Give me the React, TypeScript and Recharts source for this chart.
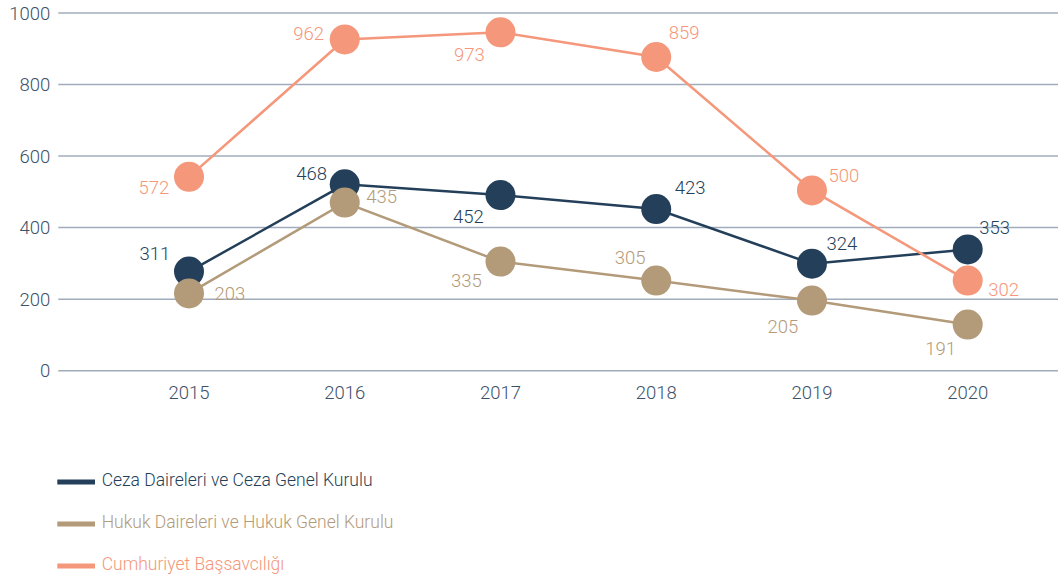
import React from 'react';
import { LineChart, Line, XAxis, YAxis, CartesianGrid, LabelList } from 'recharts';

const years = ['2015', '2016', '2017', '2018', '2019', '2020'];
// values as plotted in the reference
const cezaPlotted = [277, 521, 491, 452, 299, 339];
const hukukPlotted = [216, 470, 305, 252, 196, 129];
const cumhPlotted = [542, 926, 946, 877, 504, 252];
// values as printed on the labels
const cezaLabels = [311, 468, 452, 423, 324, 353];
const hukukLabels = [203, 435, 335, 305, 205, 191];
const cumhLabels = [572, 962, 973, 859, 500, 302];
const yTicks = [0, 200, 400, 600, 800, 1000];
const seriesNames = [
  'Ceza Daireleri ve Ceza Genel Kurulu',
  'Hukuk Daireleri ve Hukuk Genel Kurulu',
  'Cumhuriyet Başsavcılığı',
];

const COLORS = ['#243f59', '#b39a79', '#f4977a'];
const TICK_COLOR = '#3d5168';
const GRID_COLOR = '#a0acbb';
const FONT = 'Roboto, "Liberation Sans", sans-serif';
const WEIGHT = 300;

// label placement (label center relative to point)
const cezaOffsets = [[-34, -18], [-33, -11], [-32, 21], [34, -22], [30, -20], [27, -22]];
const hukukOffsets = [[41, 0], [37, -6], [-34, 19], [-26, -23], [-29, 26], [-27, 24]];
const cumhOffsets = [[-35, 11], [-36, -6], [-31, 22], [28, -24], [32, -15], [36, 9]];

const data = years.map((year, i) => ({
  year,
  ceza: cezaPlotted[i],
  hukuk: hukukPlotted[i],
  cumh: cumhPlotted[i],
}));

const makeLabel = (labels: number[], offsets: number[][], color: string) => (props: any) => {
  const { x, y, index } = props;
  const [dx, dy] = offsets[index];
  return (
    <text
      x={x + dx}
      y={y + dy + 6.5}
      textAnchor="middle"
      fill={color}
      style={{ fontFamily: FONT, fontSize: 18.5, fontWeight: WEIGHT }}
    >
      {labels[index]}
    </text>
  );
};

const series = [
  { key: 'ceza', labels: cezaLabels, offsets: cezaOffsets },
  { key: 'hukuk', labels: hukukLabels, offsets: hukukOffsets },
  { key: 'cumh', labels: cumhLabels, offsets: cumhOffsets },
];

const legendRows = [482, 524, 566];

export default function App() {
  return (
    <div style={{ position: 'absolute', left: 0, top: 0, width: 1058, height: 584, background: '#fff' }}>
      <LineChart
        width={1058}
        height={420}
        data={data}
        margin={{ top: 13, right: 0, left: 0, bottom: 0 }}
      >
        <CartesianGrid vertical={false} stroke={GRID_COLOR} strokeWidth={1.5} />
        <XAxis
          dataKey="year"
          axisLine={false}
          tickLine={false}
          tickMargin={9}
          height={49.3}
          padding={{ left: 130.7, right: 90.3 }}
          tick={{ fill: TICK_COLOR, fontSize: 18.5, fontFamily: FONT, fontWeight: WEIGHT }}
        />
        <YAxis
          domain={[0, 1000]}
          ticks={yTicks}
          axisLine={false}
          tickLine={false}
          width={58.3}
          tick={{ fill: TICK_COLOR, fontSize: 18.5, fontFamily: FONT, fontWeight: WEIGHT }}
          interval={0}
        />
        {series.map((s, i) => (
          <Line
            key={s.key}
            dataKey={s.key}
            stroke={COLORS[i]}
            strokeWidth={2.5}
            dot={{ r: 15, fill: COLORS[i], stroke: 'none', strokeWidth: 0 }}
            activeDot={false}
            isAnimationActive={false}
          >
            <LabelList dataKey={s.key} content={makeLabel(s.labels, s.offsets, COLORS[i])} />
          </Line>
        ))}
      </LineChart>
      <svg width={1058} height={584} style={{ position: 'absolute', left: 0, top: 0, pointerEvents: 'none' }}>
        {seriesNames.map((name, i) => (
          <g key={name}>
            <line x1={57.3} x2={95} y1={legendRows[i]} y2={legendRows[i]} stroke={COLORS[i]} strokeWidth={5} />
            <text x={101.7} y={legendRows[i] + 3.8} fill={COLORS[i]} style={{ fontFamily: FONT, fontSize: 17.5, fontWeight: WEIGHT }}>
              {name}
            </text>
          </g>
        ))}
      </svg>
    </div>
  );
}
